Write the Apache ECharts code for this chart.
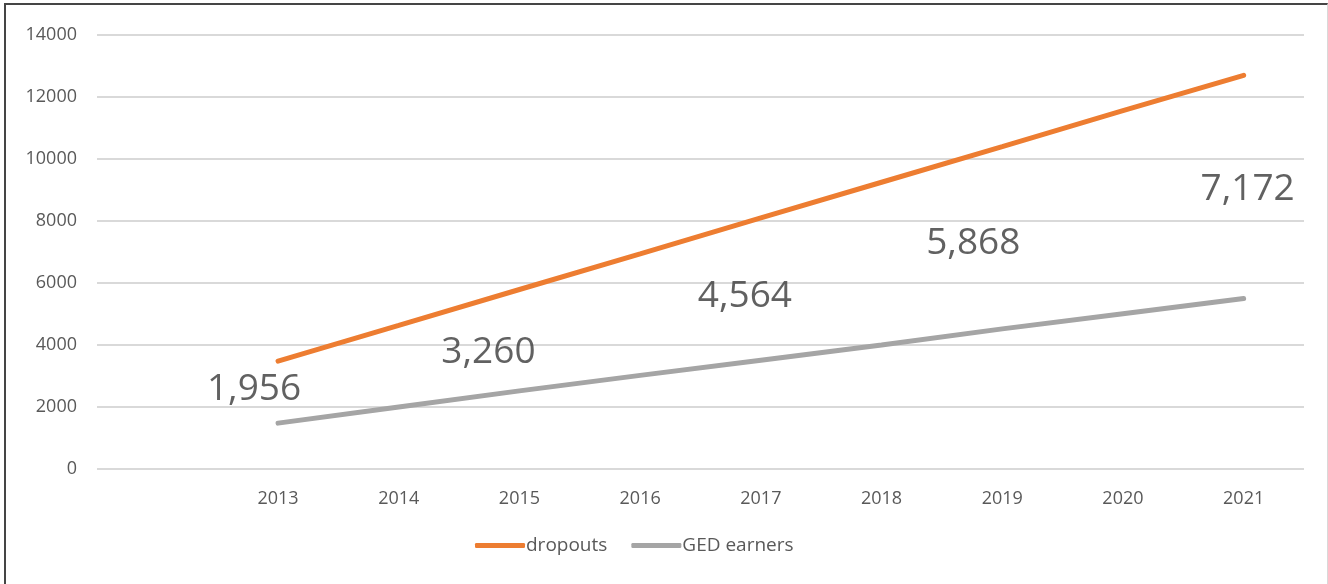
<!DOCTYPE html>
<html>
<head>
<meta charset="utf-8">
<script src="https://cdn.jsdelivr.net/npm/echarts@6/dist/echarts.min.js"></script>
<style>
    html, body { margin: 0; padding: 0; background: #fff; }
    #main { position: absolute; left: 0; top: 0; width: 1328px; height: 584px; }
    #frame {
        position: absolute; left: 4px; top: 3px; width: 1321px; height: 590px;
        border-left: 2px solid #454545; border-top: 2px solid #454545; border-right: 1px solid #d9d9d9;
        pointer-events: none;
    }
</style>
</head>
<body>
<div id="main"></div>
<div id="frame"></div>
<script>
// 数据
var years = ['', '2013', '2014', '2015', '2016', '2017', '2018', '2019', '2020', '2021'];
var dropouts = [null, 3480, 4630, 5790, 6940, 8100, 9250, 10400, 11560, 12700];
var gedEarners = [null, 1480, 2000, 2520, 3020, 3510, 4000, 4520, 5010, 5500];
// 差值文本框 (类别, 大致高度, 数值)
var gapYears = ['2013', '2015', '2017', '2019', '2021'];
var gapAnchor = [2550, 3770, 5580, 7290, 9030];
var gapValues = [1956, 3260, 4564, 5868, 7172];

var labelShift = [[-24, 0], [-31, 0], [-16, 0], [-29, 0], [4, 0]];

var myChart = echarts.init(document.getElementById('main'));
var font = '"Open Sans", "Noto Sans", sans-serif';

var gapData = gapYears.map(function (y, i) {
    return {
        value: [y, gapAnchor[i], gapValues[i]],
        label: { offset: labelShift[i] }
    };
});

var option = {
    animation: false,
    backgroundColor: '#fff',
    grid: {
        left: 97,
        right: 24,
        top: 35,
        bottom: 115
    },
    legend: {
        data: ['dropouts', 'GED earners'],
        bottom: 24,
        left: 470,
        icon: 'roundRect',
        itemWidth: 50,
        itemHeight: 5,
        itemGap: 24,
        textStyle: { color: '#595959', fontSize: 19, fontFamily: font, padding: [0, 0, 0, -4] }
    },
    xAxis: {
        type: 'category',
        data: years,
        boundaryGap: true,
        axisLine: { show: false },
        axisTick: { show: false },
        axisLabel: { color: '#595959', fontSize: 18, fontFamily: font, margin: 21, interval: 0 },
        splitLine: { show: false }
    },
    yAxis: {
        type: 'value',
        min: 0,
        max: 14000,
        interval: 2000,
        axisLine: { show: false },
        axisTick: { show: false },
        axisLabel: {
            color: '#595959', fontSize: 18, fontFamily: font, margin: 20,
            formatter: function (v) { return String(v); }
        },
        splitLine: { lineStyle: { color: '#d9d9d9', width: 2 } }
    },
    series: [
        {
            name: 'dropouts',
            type: 'line',
            data: dropouts,
            symbol: 'none',
            color: '#ed7d31',
            lineStyle: { color: '#ed7d31', width: 5, cap: 'round' },
            z: 3
        },
        {
            name: 'GED earners',
            type: 'line',
            data: gedEarners,
            symbol: 'none',
            color: '#a5a5a5',
            lineStyle: { color: '#a5a5a5', width: 5, cap: 'round' },
            z: 3
        },
        {
            name: 'gap',
            type: 'scatter',
            data: gapData,
            symbolSize: 0,
            silent: true,
            z: 5,
            label: {
                show: true,
                position: 'inside',
                color: '#3a3a3a',
                fontSize: 37,
                fontFamily: font,
                formatter: function (p) {
                    return p.value[2].toLocaleString('en-US');
                }
            }
        }
    ]
};

myChart.setOption(option);
</script>
</body>
</html>
